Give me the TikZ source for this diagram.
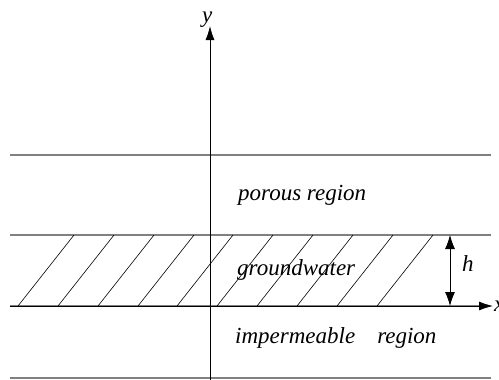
\documentclass[tikz,border=0pt]{standalone}
\usepackage{fontspec}
\setmainfont{Liberation Serif}
\usetikzlibrary{arrows.meta}
\begin{document}
\begin{tikzpicture}[x=1pt,y=-1pt,
  band/.style={draw=black!50, line width=1.4pt},
  hatch/.style={line width=0.6pt},
  axis/.style={line width=0.8pt, -{Latex[length=14pt,width=9pt]}},
  harrow/.style={line width=0.8pt, {Latex[length=14pt,width=10pt]}-{Latex[length=14pt,width=10pt]}},
  lbl/.style={font=\itshape\fontsize{23}{27}\selectfont, inner sep=0pt, anchor=base west}]
\useasboundingbox (0,0) rectangle (499,380);
% band lines
\coordinate (t1) at (10,155); \coordinate (t2) at (491,155);
\coordinate (m1) at (10,235); \coordinate (m2) at (491,235);
\coordinate (b1) at (10,378); \coordinate (b2) at (491,378);
\draw[band] (t1) -- (t2);
\draw[band] (m1) -- (m2);
\draw[band] (b1) -- (b2);
\draw[band] (10,306) -- (480,306);
% hatching
\foreach \t in {74,114,154,194,233,273,313,353,393,433}{
  \draw[hatch] (\t-56,306) -- (\t,235);
}
% axes
\coordinate (xo) at (10,306); \coordinate (xe) at (493,306);
\coordinate (yo) at (210,380); \coordinate (ye) at (210,26);
\draw[axis] (xo) -- (xe);
\draw[axis] (yo) -- (ye);
\node[lbl] (xl) at (494,311) {x};
\node[lbl] (yl) at (202,22) {y};
% h arrow
\coordinate (h1) at (450,235); \coordinate (h2) at (450,306);
\draw[harrow] (h1) -- (h2);
\node[lbl] (hl) at (462,271) {h};
% labels
\node[lbl] (por) at (238,200) {porous region};
\node[lbl] (gw) at (237,275) {groundwater};
\node[lbl] (imp) at (235,343) {impermeable\hspace{22pt}region};
\end{tikzpicture}
\end{document}
